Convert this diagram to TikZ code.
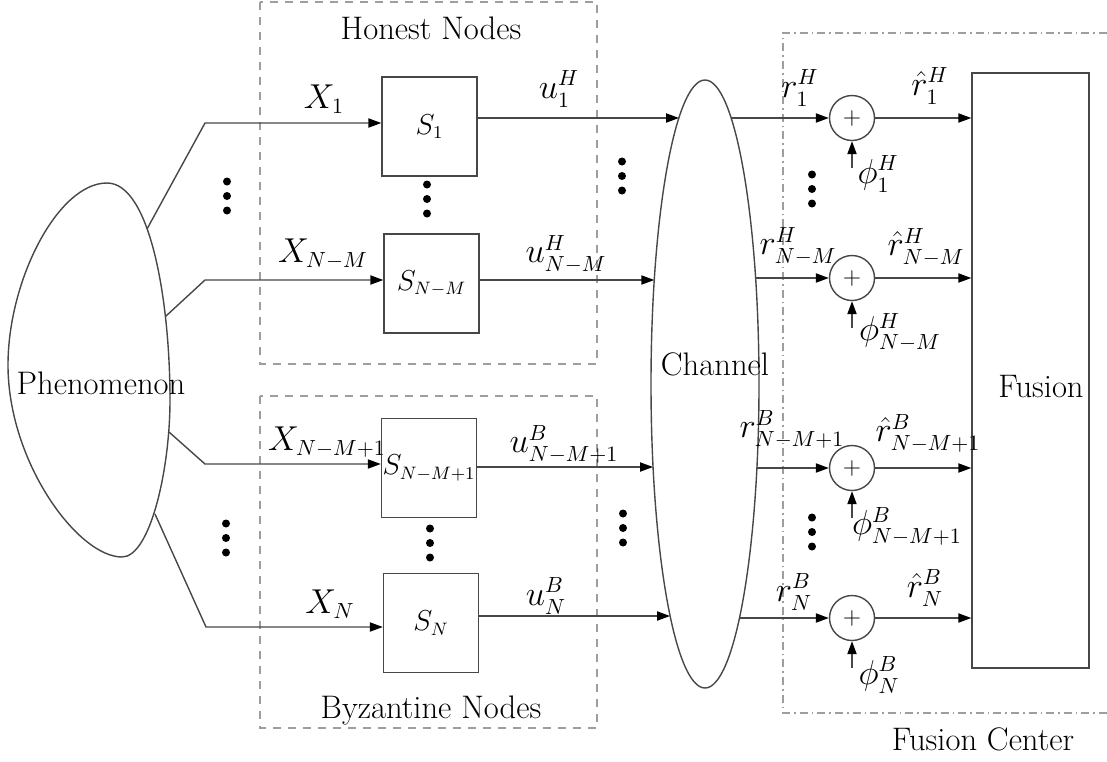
\documentclass[tikz,border=0pt]{standalone}
\usetikzlibrary{arrows.meta,shapes.geometric}
\tikzset{
  ln/.style={draw=black!72, line width=0.7pt},
  arr/.style={ln, -{Triangle[length=6.5pt,width=4.6pt,color=black]}},
  sbox/.style={draw=black!72, line width=0.7pt, minimum width=47.5pt, minimum height=49.5pt, inner sep=0pt, font=\fontsize{13.5}{16}\selectfont},
  sumnode/.style={circle, draw=black!72, line width=0.7pt, minimum size=22.5pt, inner sep=0pt, font=\fontsize{13}{15}\selectfont},
  fusbox/.style={draw=black!72, line width=0.7pt, minimum width=58.5pt, minimum height=297.5pt, inner sep=0pt},
  chan/.style={ellipse, draw=black!72, line width=0.7pt, minimum width=54pt, minimum height=304pt, inner sep=0pt},
  mlbl/.style={inner sep=0pt, font=\fontsize{16}{19}\selectfont},
  tlbl/.style={inner sep=0pt, anchor=base, font=\fontsize{16.3}{19}\selectfont},
  grpbox/.style={draw=black!38, line width=0.6pt, dash pattern=on 4pt off 3.5pt},
  fcbox/.style={draw=black!38, line width=0.6pt, dash pattern=on 4pt off 2pt on 0.8pt off 2pt},
}
\newcommand{\dotcol}[2]{\foreach \dd in {-14.5,0,14.5} {\fill (#1,#2+\dd) circle[radius=2pt];}}
\begin{document}
\begin{tikzpicture}[x=0.5pt,y=-0.5pt]
\useasboundingbox (0,0) rectangle (1107,761);
% group boxes
\draw[grpbox] (260,2) rectangle (597,364);
\draw[grpbox] (260,396) rectangle (597,728);
\draw[fcbox] (1107,33) -- (783,33) -- (783,713) -- (1107,713);
\node[tlbl] (hn) at (431,39) {Honest Nodes};
\node[tlbl] (bn) at (431,718) {Byzantine Nodes};
\node[tlbl] (fcl) at (983,750) {Fusion Center};
% phenomenon
\draw[ln] (107,183) .. controls (58,183) and (8,280) .. (8,365)
  .. controls (8,462) and (78,557) .. (122,557)
  .. controls (150,557) and (170,470) .. (170,400)
  .. controls (170,300) and (150,183) .. (107,183) -- cycle;
\node[tlbl] (phen) at (101,394) {Phenomenon};
\coordinate (p1) at (147,229);
\coordinate (p2) at (166,316);
\coordinate (p3) at (169,432);
\coordinate (p4) at (155,514);
\coordinate (k1) at (205,123);
\coordinate (k2) at (205,280);
\coordinate (k3) at (205,464);
\coordinate (k4) at (206,627);
% sensors
\node[sbox] (s1) at (429.5,126.5) {$S_1$};
\node[sbox] (s2) at (431.5,283.5) {$S_{N-M}$};
\node[sbox] (s3) at (429,468) {$S_{N-M+1}$};
\node[sbox] (s4) at (431,623) {$S_N$};
\draw[arr] (p1) -- (k1) -- (s1.west |- k1);
\draw[arr] (p2) -- (k2) -- (s2.west |- k2);
\draw[arr] (p3) -- (k3) -- (s3.west |- k3);
\draw[arr] (p4) -- (k4) -- (s4.west |- k4);
\node[mlbl] (x1) at (324,99) {$X_1$};
\node[mlbl] (x2) at (323,254) {$X_{N-M}$};
\node[mlbl] (x3) at (327,442) {$X_{N-M+1}$};
\node[mlbl] (x4) at (330,604) {$X_N$};
% channel
\node[chan] (ch) at (705,384) {};
\node[tlbl] (chl) at (715,375) {Channel};
\coordinate (c1l) at (679,118);
\coordinate (c2l) at (654.3,280);
\coordinate (c3l) at (653,467);
\coordinate (c4l) at (670,616);
\coordinate (c1r) at (731,118);
\coordinate (c2r) at (755.6,278);
\coordinate (c3r) at (756.9,468);
\coordinate (c4r) at (739.5,618);
\draw[arr] (s1.east |- c1l) -- (c1l);
\draw[arr] (s2.east |- c2l) -- (c2l);
\draw[arr] (s3.east |- c3l) -- (c3l);
\draw[arr] (s4.east |- c4l) -- (c4l);
\node[mlbl] (u1) at (559,89) {$u_1^H$};
\node[mlbl] (u2) at (566,254) {$u_{N-M}^H$};
\node[mlbl] (u3) at (564,444) {$u_{N-M+1}^B$};
\node[mlbl] (u4) at (546,596) {$u_N^B$};
% fusion center
\node[fusbox] (fu) at (1030.5,370.5) {};
\node[tlbl] (ful) at (1041,397) {Fusion};
\node[sumnode] (a1) at (852,118) {$+$};
\node[sumnode] (a2) at (852,278) {$+$};
\node[sumnode] (a3) at (852,468) {$+$};
\node[sumnode] (a4) at (852,618) {$+$};
\coordinate (f1) at (852,168);
\coordinate (f2) at (852,328);
\coordinate (f3) at (852,518);
\coordinate (f4) at (852,668);
\draw[arr] (c1r) -- (a1);
\draw[arr] (c2r) -- (a2);
\draw[arr] (c3r) -- (a3);
\draw[arr] (c4r) -- (a4);
\draw[arr] (a1) -- (fu.west |- a1);
\draw[arr] (a2) -- (fu.west |- a2);
\draw[arr] (a3) -- (fu.west |- a3);
\draw[arr] (a4) -- (fu.west |- a4);
\draw[arr] (f1) -- (a1);
\draw[arr] (f2) -- (a2);
\draw[arr] (f3) -- (a3);
\draw[arr] (f4) -- (a4);
\node[mlbl] (r1) at (800,88) {$r_1^H$};
\node[mlbl] (r2) at (798,246) {$r_{N-M}^H$};
\node[mlbl] (r3) at (792,429) {$r_{N-M+1}^B$};
\node[mlbl] (r4) at (794,592) {$r_N^B$};
\node[mlbl] (h1) at (930,86) {$\hat r_1^H$};
\node[mlbl] (h2) at (926,247) {$\hat r_{N-M}^H$};
\node[mlbl] (h3) at (928,433) {$\hat r_{N-M+1}^B$};
\node[mlbl] (h4) at (925,588) {$\hat r_N^B$};
\node[mlbl] (g1) at (878,174) {$\phi_1^H$};
\node[mlbl] (g2) at (900,332) {$\phi_{N-M}^H$};
\node[mlbl] (g3) at (907,526) {$\phi_{N-M+1}^B$};
\node[mlbl] (g4) at (879,675) {$\phi_N^B$};
% dots
\dotcol{227}{196}
\dotcol{427}{199}
\dotcol{622}{176}
\dotcol{812}{189}
\dotcol{226}{538}
\dotcol{430}{543}
\dotcol{623}{528}
\dotcol{812}{532}
\end{tikzpicture}
\end{document}
